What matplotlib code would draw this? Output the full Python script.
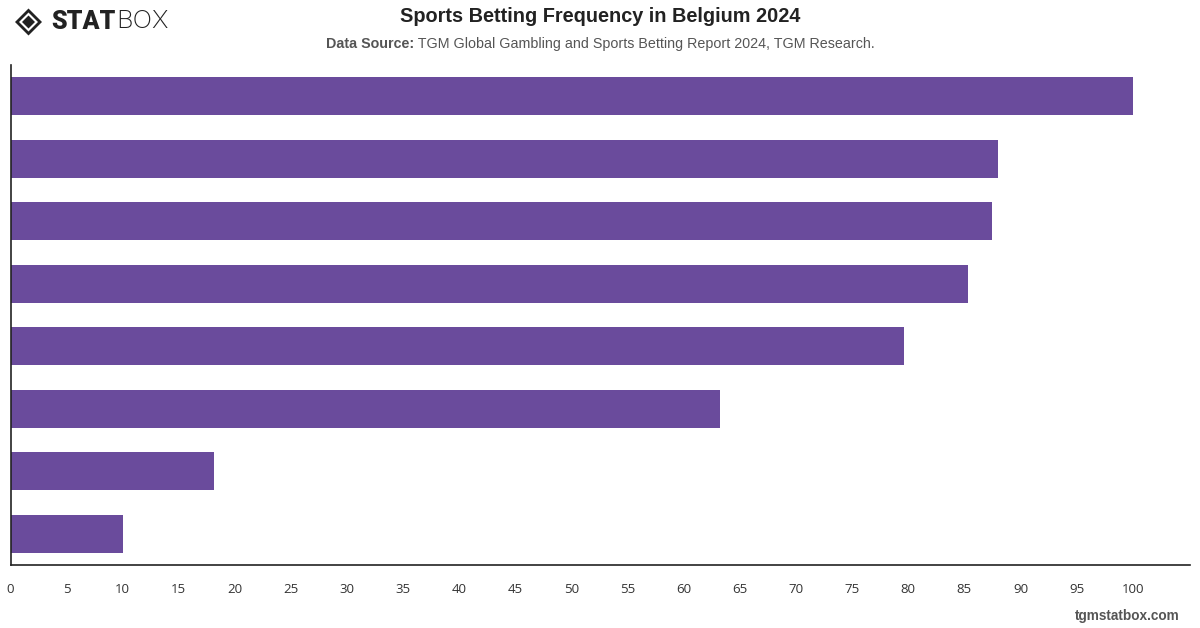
import matplotlib
matplotlib.use("Agg")
import matplotlib.pyplot as plt
from matplotlib.patches import Polygon

categories = ["Category 1", "Category 2", "Category 3", "Category 4",
              "Category 5", "Category 6", "Category 7", "Category 8"]
values = [100, 88.0, 87.5, 85.3, 79.6, 63.2, 18.1, 10.0]
xticks = list(range(0, 101, 5))

BAR = "#6a4b9c"
W, H = 1200, 628
fig = plt.figure(figsize=(12, 6.28), dpi=100)
fig.patch.set_facecolor("white")
plt.rcParams['font.family'] = ['Liberation Sans', 'DejaVu Sans']

ax = fig.add_axes([10.5 / W, (H - 565) / H, (1190 - 10.5) / W, 500 / H])
ypos = list(range(len(categories)))
ax.barh(ypos, values, height=0.61, color=BAR, zorder=2)
ax.set_ylim(len(categories) - 0.5, -0.5)
ax.set_xlim(0, 105.1)
ax.set_yticks([])
ax.set_xticks(xticks)
ax.set_xticklabels([str(t) for t in xticks], fontsize=9.5, color="#333333",
                   family=["Open Sans", "DejaVu Sans"])
ax.tick_params(axis="x", length=0, pad=13)
for s in ["top", "right"]:
    ax.spines[s].set_visible(False)
for s in ["left", "bottom"]:
    ax.spines[s].set_color("#222222")
    ax.spines[s].set_linewidth(1.2)

# Title and subtitle
fig.text(600 / W, 1 - 17 / H, "Sports Betting Frequency in Belgium 2024",
         ha="center", va="center", fontsize=14.3, fontweight="bold", color="#222222")
t1 = fig.text(0, 1 - 44 / H, "Data Source:", ha="left", va="center",
              fontsize=10.3, fontweight="bold", color="#555555")
t2 = fig.text(0, 1 - 44 / H, " TGM Global Gambling and Sports Betting Report 2024, TGM Research.",
              ha="left", va="center", fontsize=10.3, color="#555555")
fig.canvas.draw()
r = fig.canvas.get_renderer()
w1 = t1.get_window_extent(r).width
w2 = t2.get_window_extent(r).width
x0 = 600 - (w1 + w2) / 2
t1.set_x(x0 / W)
t2.set_x((x0 + w1) / W)

# Watermark
fig.text(1180 / W, 1 - 616 / H, "tgmstatbox.com", ha="right", va="center",
         fontsize=9.8, fontweight="bold", color="#555555")

# Logo
cx, cy, rr = 28.5, 22, 13.5
def px(x, y):
    return (x / W, 1 - y / H)
outer = Polygon([px(cx - rr, cy), px(cx, cy - rr), px(cx + rr, cy), px(cx, cy + rr)],
                closed=True, transform=fig.transFigure, facecolor="#222222", edgecolor="none")
inner_w = Polygon([px(cx - rr + 4, cy), px(cx, cy - rr + 4), px(cx + rr - 4, cy), px(cx, cy + rr - 4)],
                  closed=True, transform=fig.transFigure, facecolor="white", edgecolor="none")
inner = Polygon([px(cx - rr + 7, cy), px(cx, cy - rr + 7), px(cx + rr - 7, cy), px(cx, cy + rr - 7)],
                closed=True, transform=fig.transFigure, facecolor="#222222", edgecolor="none")
for p in (outer, inner_w, inner):
    fig.add_artist(p)
ts = fig.text(51 / W, 1 - 22 / H, "STAT", ha="left", va="center",
              fontsize=18, fontweight="heavy", family=["Roboto", "DejaVu Sans"],
              color="#222222")
fig.canvas.draw()
wts = ts.get_window_extent(r).width
fig.text((51 + wts + 1) / W, 1 - 22 / H, "BOX", ha="left", va="center",
         fontsize=18.5, fontweight="light", family=["Inter", "DejaVu Sans"], color="#222222")

fig.savefig("out.png", dpi=100, facecolor="white")
